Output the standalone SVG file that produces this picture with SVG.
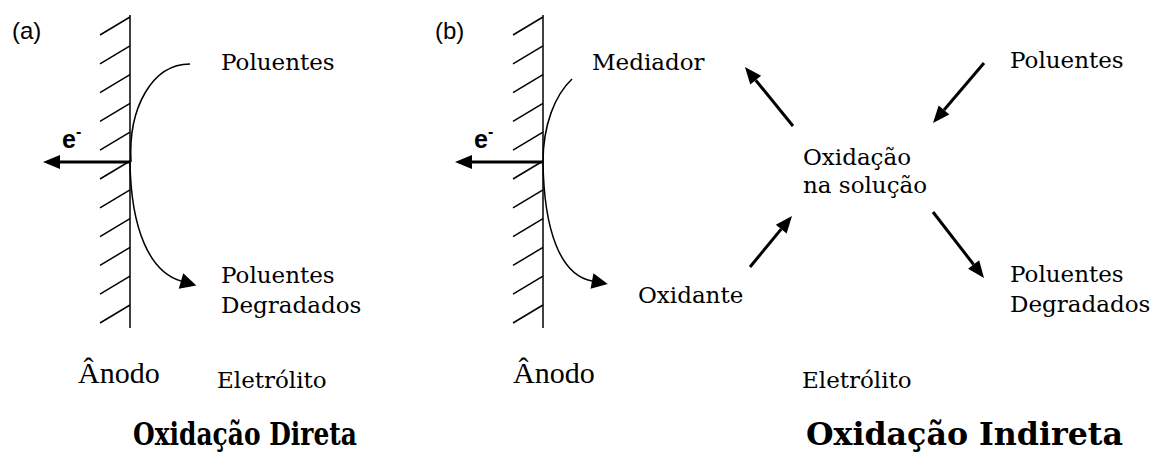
<svg xmlns="http://www.w3.org/2000/svg" width="1152" height="454" viewBox="0 0 1152 454">
<style>
.wall{stroke:#000;stroke-width:1.5;fill:none}
.hatch{stroke:#000;stroke-width:1.5}
.thin{stroke:#000;stroke-width:1.5;fill:none}
.thick{stroke:#000;stroke-width:3;fill:none}
.lbl{font-family:"DejaVu Serif","Liberation Serif",serif;font-size:23px;fill:#000}
.an{font-family:"Liberation Serif",serif;font-size:30px;fill:#000}
.ttl{font-family:"DejaVu Serif","Liberation Serif",serif;font-size:31px;font-weight:bold;fill:#000}
.tag{font-family:"Liberation Sans",Arial,sans-serif;font-size:24px;fill:#000}
.el{font-family:"Liberation Sans",Arial,sans-serif;font-size:25px;font-weight:bold;fill:#000}
</style>
<defs>
<marker id="ah" markerUnits="userSpaceOnUse" markerWidth="18" markerHeight="14" refX="0" refY="7" orient="auto" overflow="visible"><path d="M0,0 L17,7 L0,14 z" fill="#000"/></marker>
<marker id="ahc" markerUnits="userSpaceOnUse" markerWidth="17" markerHeight="16" refX="0" refY="8" orient="auto" overflow="visible"><path d="M0,0 L16,8 L0,16 z" fill="#000"/></marker>
<g id="hatches">
<line class="wall" x1="0" y1="15" x2="0" y2="328"/>
<line class="hatch" x1="-30" y1="35" x2="0" y2="17"/>
<line class="hatch" x1="-30" y1="63.8" x2="0" y2="45.8"/>
<line class="hatch" x1="-30" y1="92.6" x2="0" y2="74.6"/>
<line class="hatch" x1="-30" y1="121.4" x2="0" y2="103.4"/>
<line class="hatch" x1="-30" y1="150.2" x2="0" y2="132.2"/>
<line class="hatch" x1="-30" y1="179" x2="0" y2="161"/>
<line class="hatch" x1="-30" y1="207.8" x2="0" y2="189.8"/>
<line class="hatch" x1="-30" y1="236.6" x2="0" y2="218.6"/>
<line class="hatch" x1="-30" y1="265.4" x2="0" y2="247.4"/>
<line class="hatch" x1="-30" y1="294.2" x2="0" y2="276.2"/>
<line class="hatch" x1="-30" y1="323" x2="0" y2="305"/>
</g>
</defs>

<g id="panel-a">
<text class="tag" x="12" y="39">(a)</text>
<g id="anode-a"><use href="#hatches" x="130" y="0"/></g>
<text class="el" x="62" y="148">e<tspan font-size="16" dy="-11">-</tspan></text>
<text class="lbl" x="221" y="70">Poluentes</text>
<text class="lbl" x="221" y="283">Poluentes</text>
<text class="lbl" x="221" y="313">Degradados</text>
<text class="an" x="78" y="383">Ânodo</text>
<text class="lbl" x="217" y="388">Eletrólito</text>
<text class="ttl" x="133" y="445" textLength="224" lengthAdjust="spacingAndGlyphs">Oxidação Direta</text>
</g>

<g id="panel-b">
<text class="tag" x="435" y="39">(b)</text>
<g id="anode-b"><use href="#hatches" x="543" y="0"/></g>
<text class="el" x="474" y="148">e<tspan font-size="16" dy="-11">-</tspan></text>
<text class="lbl" x="592" y="70">Mediador</text>
<text class="lbl" x="638" y="303">Oxidante</text>
<text class="lbl" x="803" y="165">Oxidação</text>
<text class="lbl" x="803" y="193">na solução</text>
<text class="lbl" x="1010" y="68">Poluentes</text>
<text class="lbl" x="1010" y="282">Poluentes</text>
<text class="lbl" x="1010" y="312">Degradados</text>
<text class="an" x="513" y="383">Ânodo</text>
<text class="lbl" x="802" y="388">Eletrólito</text>
<text class="ttl" x="806" y="445" textLength="317" lengthAdjust="spacingAndGlyphs">Oxidação Indireta</text>
</g>

<g id="connectors">
<path class="thick" d="M130,162 L60,162" marker-end="url(#ah)"/>
<path class="thin" d="M190,64 C152,64 128,108 131,162"/>
<path class="thin" d="M130,162 C131,230 150,272 181,281" marker-end="url(#ahc)"/>
<path class="thick" d="M543,162 L472,162" marker-end="url(#ah)"/>
<path class="thin" d="M572,79 C555,95 543,125 543,162"/>
<path class="thin" d="M543,162 C544,230 560,275 592,281" marker-end="url(#ahc)"/>
<path class="thick" d="M793,126 L755.7,80.2" marker-end="url(#ah)"/>
<path class="thick" d="M750,267 L781.2,229.1" marker-end="url(#ah)"/>
<path class="thick" d="M984,63 L944,110" marker-end="url(#ah)"/>
<path class="thick" d="M933,212 L973.6,264.5" marker-end="url(#ah)"/>
</g>
</svg>
